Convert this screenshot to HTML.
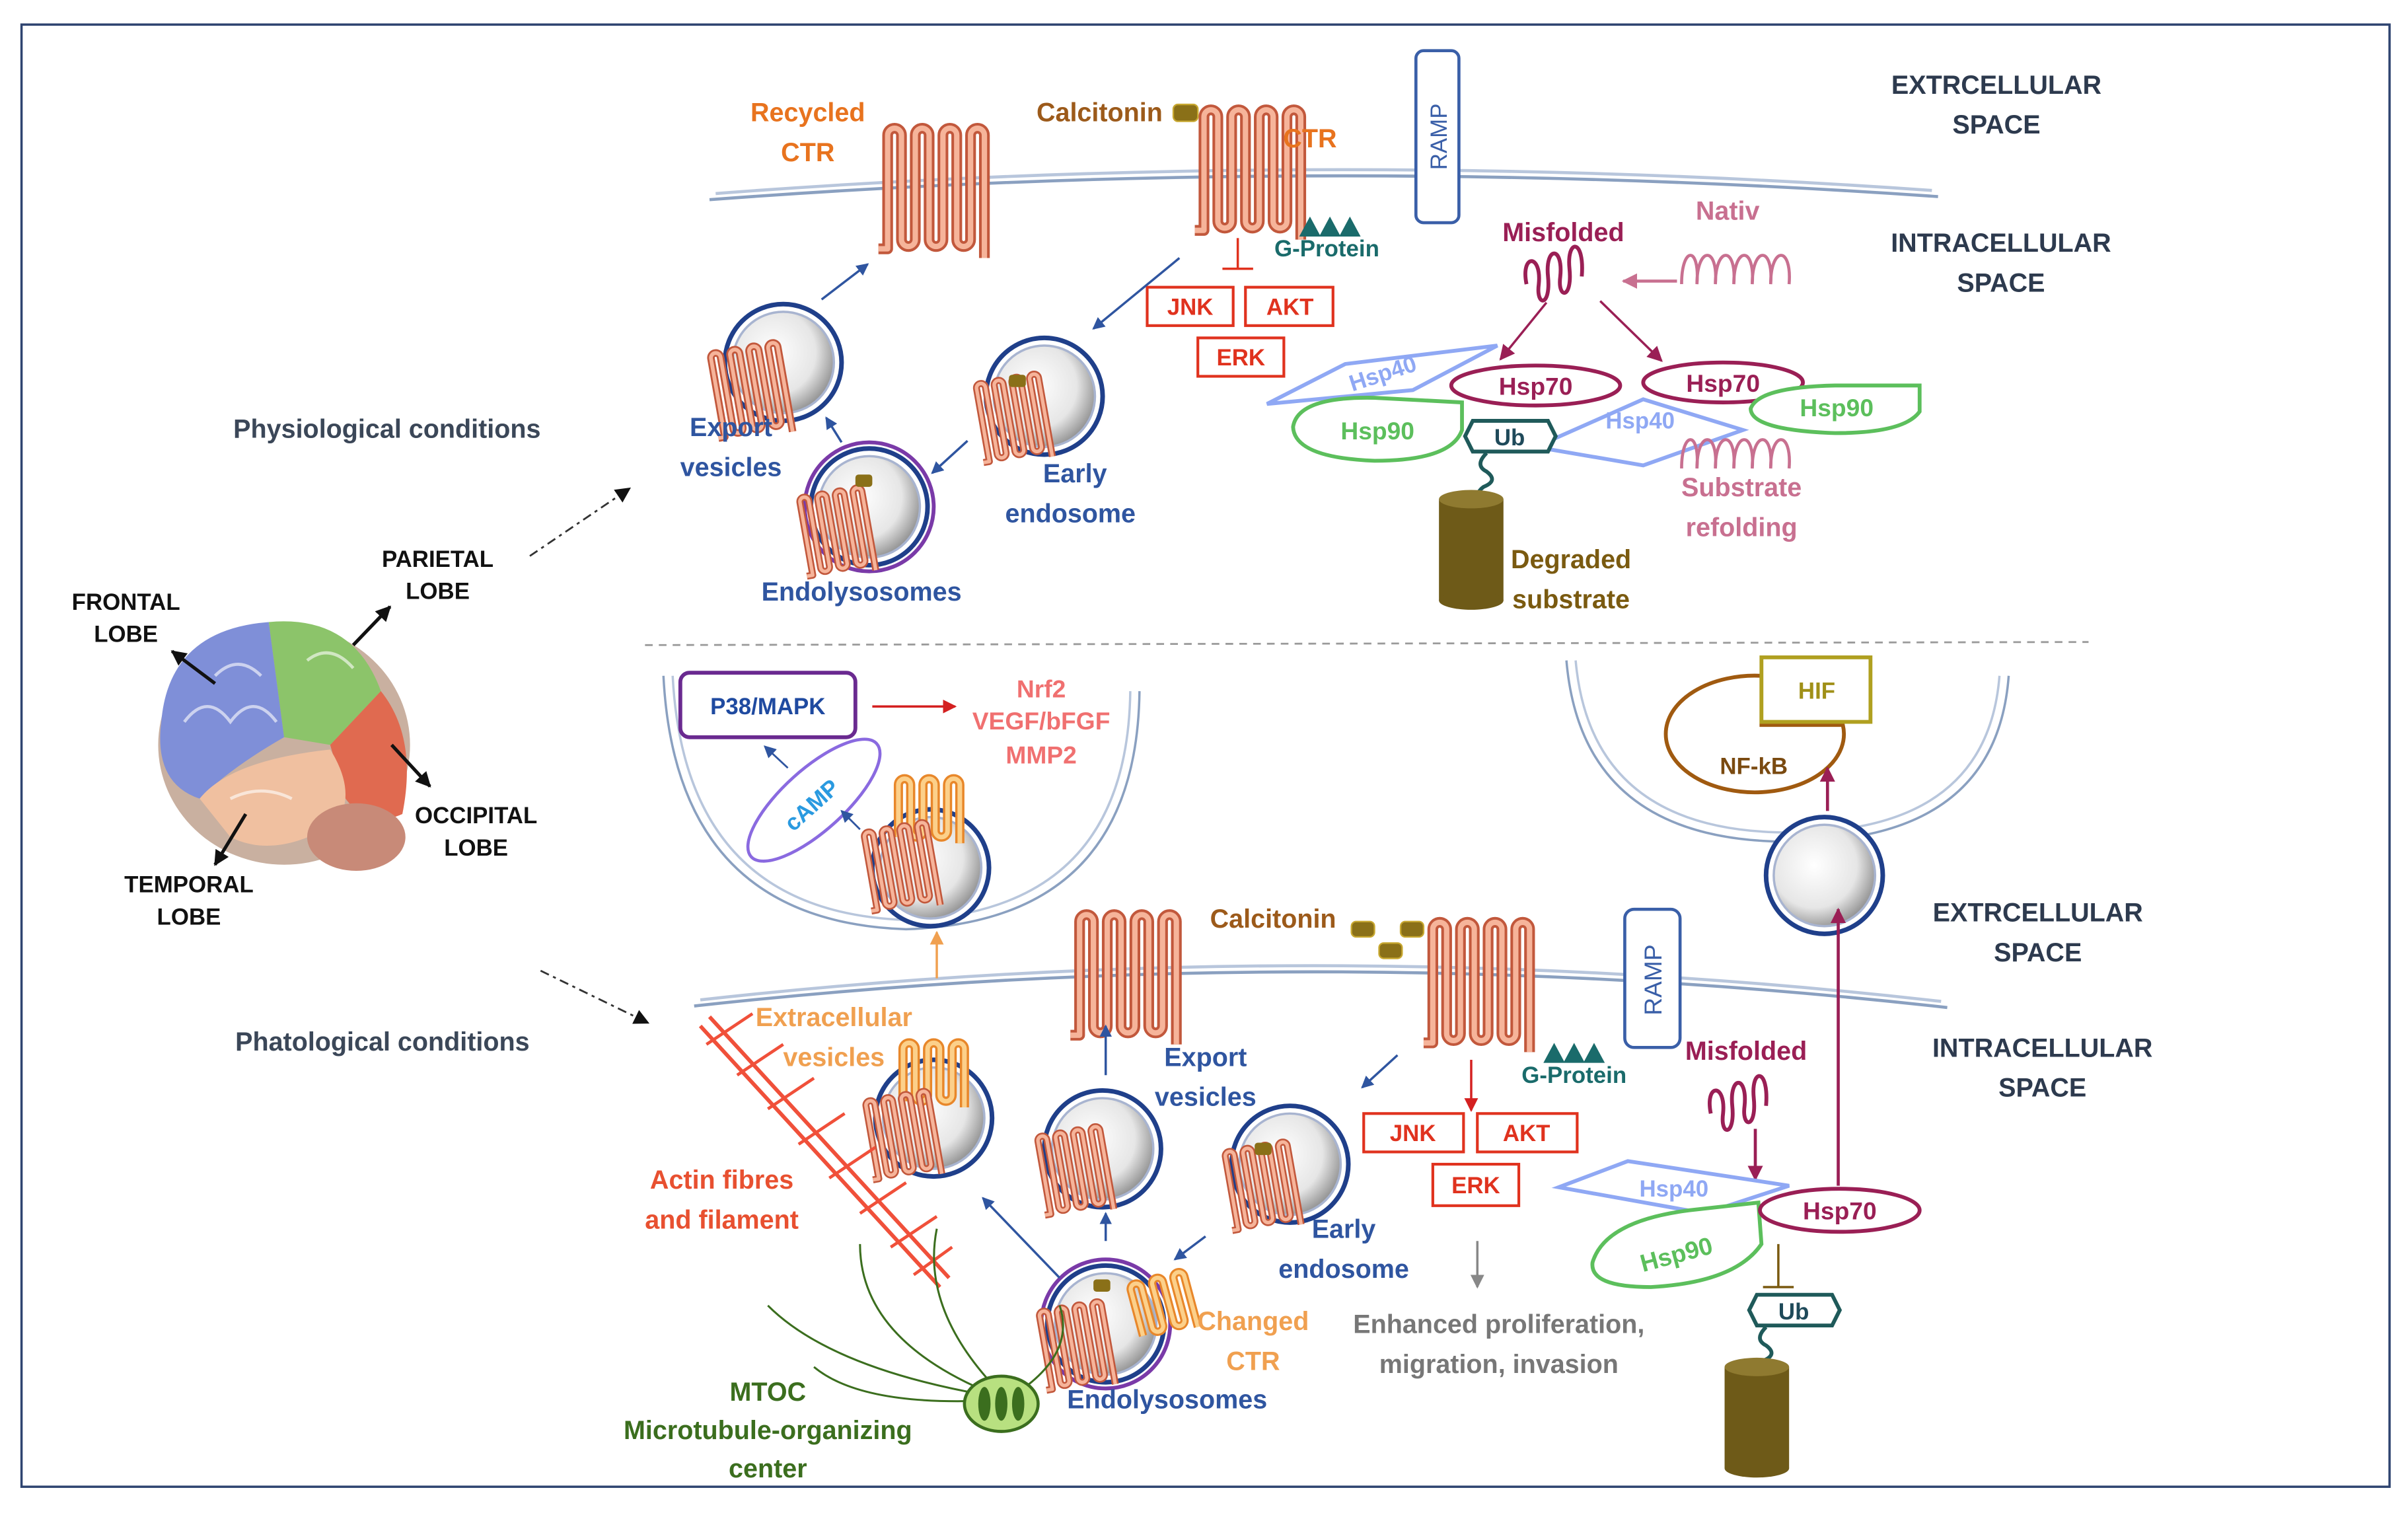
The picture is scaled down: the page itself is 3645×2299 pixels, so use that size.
<!DOCTYPE html>
<html><head><meta charset="utf-8"><style>html,body{margin:0;padding:0;background:#fff}svg{display:block}text{font-family:"Liberation Sans",sans-serif;font-weight:bold}</style></head>
<body>
<svg width="3645" height="2299" viewBox="0 0 1568 989" xmlns="http://www.w3.org/2000/svg">
<defs>
<radialGradient id="vg" cx="0.4" cy="0.4" r="0.7"><stop offset="0" stop-color="#fff"/><stop offset="0.6" stop-color="#e6e6e6"/><stop offset="1" stop-color="#7a7a7a"/></radialGradient>
<marker id="ab" markerWidth="8" markerHeight="8" refX="7" refY="4" orient="auto" markerUnits="userSpaceOnUse"><path d="M0,0 L8,4 L0,8z" fill="#2f55a0"/></marker>
<marker id="ar" markerWidth="9" markerHeight="9" refX="8" refY="4.5" orient="auto" markerUnits="userSpaceOnUse"><path d="M0,0 L9,4.5 L0,9z" fill="#d42020"/></marker>
<marker id="am" markerWidth="10" markerHeight="10" refX="9" refY="5" orient="auto" markerUnits="userSpaceOnUse"><path d="M0,0 L10,5 L0,10z" fill="#9a1f55"/></marker>
<marker id="ap" markerWidth="10" markerHeight="10" refX="9" refY="5" orient="auto" markerUnits="userSpaceOnUse"><path d="M0,0 L10,5 L0,10z" fill="#c87090"/></marker>
<marker id="ao" markerWidth="9" markerHeight="9" refX="8" refY="4.5" orient="auto" markerUnits="userSpaceOnUse"><path d="M0,0 L9,4.5 L0,9z" fill="#f0a050"/></marker>
<marker id="ag" markerWidth="9" markerHeight="9" refX="8" refY="4.5" orient="auto" markerUnits="userSpaceOnUse"><path d="M0,0 L9,4.5 L0,9z" fill="#888"/></marker>
<marker id="ak" markerWidth="10" markerHeight="10" refX="9" refY="5" orient="auto" markerUnits="userSpaceOnUse"><path d="M0,0 L10,5 L0,10z" fill="#111"/></marker>
<g id="rec"><path d="M-6,82 L0,82 L0,8 A4.5,4.5 0 0 1 9,8 L9,76 A4.5,4.5 0 0 0 18,76 L18,8 A4.5,4.5 0 0 1 27,8 L27,76 A4.5,4.5 0 0 0 36,76 L36,8 A4.5,4.5 0 0 1 45,8 L45,76 A4.5,4.5 0 0 0 54,76 L54,8 A4.5,4.5 0 0 1 63,8 L63,88" fill="none" stroke="#c2583c" stroke-width="7" stroke-linejoin="round"/><path d="M-6,82 L0,82 L0,8 A4.5,4.5 0 0 1 9,8 L9,76 A4.5,4.5 0 0 0 18,76 L18,8 A4.5,4.5 0 0 1 27,8 L27,76 A4.5,4.5 0 0 0 36,76 L36,8 A4.5,4.5 0 0 1 45,8 L45,76 A4.5,4.5 0 0 0 54,76 L54,8 A4.5,4.5 0 0 1 63,8 L63,88" fill="none" stroke="#f6b49a" stroke-width="3.5" stroke-linejoin="round"/></g>
<g id="reco"><path d="M0,40 L0,6 A4,4 0 0 1 8,6 L8,36 A4,4 0 0 0 16,36 L16,6 A4,4 0 0 1 24,6 L24,36 A4,4 0 0 0 32,36 L32,6 A4,4 0 0 1 40,6 L40,44" fill="none" stroke="#e8872a" stroke-width="6"/><path d="M0,40 L0,6 A4,4 0 0 1 8,6 L8,36 A4,4 0 0 0 16,36 L16,6 A4,4 0 0 1 24,6 L24,36 A4,4 0 0 0 32,36 L32,6 A4,4 0 0 1 40,6 L40,44" fill="none" stroke="#fcd08a" stroke-width="3"/></g>
<g id="ves"><circle r="38" fill="#fff" stroke="#1f3f8a" stroke-width="3"/><circle r="33" fill="url(#vg)" stroke="#a8b4d0" stroke-width="1.5"/></g>
<g id="cyl"><rect x="-21" y="0" width="42" height="66" fill="#6e5a18"/><ellipse cx="0" cy="0" rx="21" ry="6" fill="#8f7a30"/><ellipse cx="0" cy="66" rx="21" ry="6" fill="#6e5a18"/></g>
</defs>
<rect x="14" y="16" width="1542" height="952" fill="#fff" stroke="#2e4470" stroke-width="1.5"/>

<!-- membranes -->
<path d="M462,130 Q860,100 1262,128" fill="none" stroke="#8aa0c0" stroke-width="2"/>
<path d="M466,126 Q860,96 1258,124" fill="none" stroke="#b8c6dc" stroke-width="2"/>
<path d="M452,655 Q860,610 1268,656" fill="none" stroke="#8aa0c0" stroke-width="2"/>
<path d="M456,651 Q860,606 1264,652" fill="none" stroke="#b8c6dc" stroke-width="2"/>
<line x1="420" y1="420" x2="1360" y2="418" stroke="#9a9a9a" stroke-width="1.2" stroke-dasharray="5,4"/>

<!-- U arcs -->
<path d="M432,440 Q440,600 590,605 Q740,600 742,450" fill="none" stroke="#8aa0c0" stroke-width="1.5"/>
<path d="M438,440 Q446,594 590,599 Q734,594 736,450" fill="none" stroke="#b8c6dc" stroke-width="1.5"/>
<path d="M1020,430 Q1030,548 1165,548 Q1300,548 1308,440" fill="none" stroke="#8aa0c0" stroke-width="1.5"/>
<path d="M1026,430 Q1036,542 1165,542 Q1294,542 1302,440" fill="none" stroke="#b8c6dc" stroke-width="1.5"/>

<!-- texts main -->
<g fill="#2d3a4e" font-size="17" text-anchor="middle">
<text x="1300" y="61">EXTRCELLULAR</text><text x="1300" y="87">SPACE</text>
<text x="1303" y="164">INTRACELLULAR</text><text x="1303" y="190">SPACE</text>
<text x="1327" y="600">EXTRCELLULAR</text><text x="1327" y="626">SPACE</text>
<text x="1330" y="688">INTRACELLULAR</text><text x="1330" y="714">SPACE</text>
<text x="252" y="285" fill="#3b4758">Physiological conditions</text>
<text x="249" y="684" fill="#3b4758">Phatological conditions</text>
</g>

<!-- brain -->
<g>
<ellipse cx="185" cy="485" rx="82" ry="78" fill="#c9b0a0"/>
<path d="M105,470 Q110,410 175,405 L185,480 Q150,500 130,520 Q100,510 105,470z" fill="#7f8fd8"/>
<path d="M175,405 Q230,400 248,450 L215,485 L185,480z" fill="#8cc46a"/>
<path d="M248,450 Q272,480 262,530 Q240,540 225,520 L215,485z" fill="#e06a50"/>
<path d="M130,520 Q150,495 215,488 Q232,515 220,535 Q180,560 150,545z" fill="#f0c0a0"/>
<ellipse cx="232" cy="545" rx="32" ry="22" fill="#c88a78"/>
<path d="M120,470 q15,-20 30,0 q15,-20 30,0 M140,440 q15,-15 30,0 M200,430 q15,-12 30,5 M150,520 q20,-10 40,0" fill="none" stroke="#fff" stroke-opacity="0.6" stroke-width="2"/>
</g>
<g stroke="#111" stroke-width="2.2"><line x1="140" y1="445" x2="112" y2="424" marker-end="url(#ak)"/><line x1="230" y1="420" x2="254" y2="395" marker-end="url(#ak)"/><line x1="255" y1="485" x2="280" y2="512" marker-end="url(#ak)"/><line x1="160" y1="530" x2="140" y2="563" marker-end="url(#ak)"/></g>
<g fill="#111" font-size="15" text-anchor="middle">
<text x="82" y="397">FRONTAL</text><text x="82" y="418">LOBE</text>
<text x="285" y="369">PARIETAL</text><text x="285" y="390">LOBE</text>
<text x="310" y="536">OCCIPITAL</text><text x="310" y="557">LOBE</text>
<text x="123" y="581">TEMPORAL</text><text x="123" y="602">LOBE</text>
</g>
<g stroke="#333" stroke-width="1.2" stroke-dasharray="6,3,2,3" fill="none"><line x1="345" y1="362" x2="410" y2="318" marker-end="url(#ak)"/><line x1="352" y1="632" x2="422" y2="666" marker-end="url(#ak)"/></g>

<!-- TOP -->
<use href="#rec" x="578" y="80"/>
<use href="#rec" x="784" y="68"/>
<text x="526" y="79" fill="#e8731e" font-size="17" text-anchor="middle">Recycled</text>
<text x="526" y="105" fill="#e8731e" font-size="17" text-anchor="middle">CTR</text>
<text x="716" y="79" fill="#9c5a1a" font-size="17" text-anchor="middle">Calcitonin</text>
<rect x="764" y="68" width="16" height="11" rx="3" fill="#8a7018" stroke="#c8a830"/>
<text x="853" y="96" fill="#e8731e" font-size="17" text-anchor="middle">CTR</text>
<rect x="922" y="33" width="28" height="112" rx="5" fill="#fff" stroke="#3a5fa8" stroke-width="2"/>
<text transform="translate(942,89) rotate(-90)" fill="#3a5fa8" font-size="15" font-weight="normal" text-anchor="middle" style="font-weight:normal">RAMP</text>
<path d="M846,154 l7,-13 l7,13z M859,154 l7,-13 l7,13z M872,154 l7,-13 l7,13z" fill="#1a6b6b"/>
<text x="864" y="167" fill="#1a6b6b" font-size="15" text-anchor="middle">G-Protein</text>
<g stroke="#e0321e" stroke-width="1.5"><line x1="806" y1="155" x2="806" y2="175"/><line x1="796" y1="175" x2="816" y2="175"/></g>
<g fill="#fff" stroke="#e0321e" stroke-width="1.8"><rect x="747" y="187" width="56" height="25"/><rect x="811" y="187" width="57" height="25"/><rect x="780" y="220" width="56" height="25"/></g>
<g fill="#e0321e" font-size="15" text-anchor="middle"><text x="775" y="205">JNK</text><text x="840" y="205">AKT</text><text x="808" y="238">ERK</text></g>
<g stroke="#2f55a0" stroke-width="1.5" marker-end="url(#ab)"><line x1="768" y1="168" x2="712" y2="214"/><line x1="535" y1="195" x2="565" y2="172"/><line x1="548" y1="288" x2="538" y2="272"/><line x1="630" y1="287" x2="607" y2="308"/></g>
<use href="#ves" x="510" y="236"/>
<use href="#rec" x="0" y="0" transform="translate(462,228) scale(0.7) rotate(-10)"/>
<use href="#ves" x="680" y="258"/>
<use href="#rec" transform="translate(635,248) scale(0.65) rotate(-10)"/>
<rect x="657" y="244" width="11" height="8" rx="2" fill="#8a7018"/>
<circle cx="566" cy="330" r="42" fill="none" stroke="#7a3aa8" stroke-width="2.5"/>
<use href="#ves" x="566" y="330"/>
<use href="#rec" transform="translate(520,322) scale(0.65) rotate(-10)"/>
<rect x="557" y="309" width="11" height="8" rx="2" fill="#8a7018"/>
<g fill="#2f55a0" font-size="17" text-anchor="middle">
<text x="476" y="284">Export</text><text x="476" y="310">vesicles</text>
<text x="700" y="314">Early</text><text x="697" y="340">endosome</text>
<text x="561" y="391">Endolysosomes</text>
</g>
<!-- chaperone top -->
<text x="1018" y="157" fill="#9a1f55" font-size="17" text-anchor="middle">Misfolded</text>
<path d="M994,185 c-4,-20 10,-20 8,0 c-2,15 8,15 6,-5 c-2,-20 10,-20 8,0 c-2,15 8,15 6,-5 c-2,-20 10,-20 8,5" fill="none" stroke="#9a1f55" stroke-width="2.5"/>
<text x="1125" y="143" fill="#c87090" font-size="17" text-anchor="middle">Nativ</text>
<path d="M1095,185 c0,-25 12,-25 10,0 c0,-25 14,-25 12,0 c0,-25 14,-25 12,0 c0,-25 14,-25 12,0 c0,-25 14,-25 12,0 c0,-25 14,-25 12,0" fill="none" stroke="#c87090" stroke-width="2"/>
<line x1="1092" y1="183" x2="1057" y2="183" stroke="#c87090" stroke-width="2" marker-end="url(#ap)"/>
<g stroke="#9a1f55" stroke-width="1.5" marker-end="url(#am)"><line x1="1007" y1="197" x2="977" y2="234"/><line x1="1042" y1="196" x2="1082" y2="235"/></g>
<path d="M825,263 L876,237 L975,225 L920,254z" fill="none" stroke="#8fa8f4" stroke-width="2.5"/>
<text transform="translate(902,248) rotate(-18)" fill="#8fa8f4" font-size="15" text-anchor="middle">Hsp40</text>
<path d="M955,260 L955,267 L845,267 Q838,300 900,302 Q950,300 955,267" fill="none" stroke="none"/>
<path d="M952,262 L952,280 Q945,300 895,300 Q843,298 842,278 Q845,258 895,259z" fill="#fff" stroke="#5cbf5c" stroke-width="2.5"/>
<text x="897" y="286" fill="#5cbf5c" font-size="16" text-anchor="middle">Hsp90</text>
<path d="M1000,291 L1070,260 L1135,280 L1070,303z" fill="none" stroke="#8fa8f4" stroke-width="2.5"/>
<text x="1068" y="279" fill="#8fa8f4" font-size="15" text-anchor="middle">Hsp40</text>
<ellipse cx="1000" cy="251" rx="55" ry="13" fill="#fff" stroke="#9a1f55" stroke-width="2.5"/>
<text x="1000" y="257" fill="#9a1f55" font-size="16" text-anchor="middle">Hsp70</text>
<ellipse cx="1122" cy="249" rx="52" ry="13" fill="#fff" stroke="#9a1f55" stroke-width="2.5"/>
<text x="1122" y="255" fill="#9a1f55" font-size="16" text-anchor="middle">Hsp70</text>
<path d="M1250,251 L1250,268 Q1240,282 1195,282 Q1140,280 1140,266 Q1145,252 1195,251z" fill="#fff" stroke="#5cbf5c" stroke-width="2.5"/>
<text x="1196" y="271" fill="#5cbf5c" font-size="16" text-anchor="middle">Hsp90</text>
<path d="M959,274 L1008,274 L1013,284 L1008,294 L959,294 L954,284z" fill="#fff" stroke="#1f5a5a" stroke-width="2.5"/>
<text x="983" y="290" fill="#1f4a5a" font-size="15" text-anchor="middle">Ub</text>
<path d="M1095,305 c0,-25 12,-25 10,0 c0,-25 14,-25 12,0 c0,-25 14,-25 12,0 c0,-25 14,-25 12,0 c0,-25 14,-25 12,0 c0,-25 14,-25 12,0" fill="none" stroke="#c87090" stroke-width="2"/>
<text x="1134" y="323" fill="#c87090" font-size="17" text-anchor="middle">Substrate</text>
<text x="1134" y="349" fill="#c87090" font-size="17" text-anchor="middle">refolding</text>
<path d="M968,295 q-8,8 0,12 q8,6 -2,10 q-8,6 2,12" fill="none" stroke="#1f5a5a" stroke-width="2.5"/>
<use href="#cyl" x="958" y="325"/>
<text x="1023" y="370" fill="#7a5a10" font-size="17" text-anchor="middle">Degraded</text>
<text x="1023" y="396" fill="#7a5a10" font-size="17" text-anchor="middle">substrate</text>

<!-- BOTTOM -->
<rect x="443" y="438" width="114" height="42" rx="6" fill="#fff" stroke="#6a2a90" stroke-width="2.5"/>
<text x="500" y="465" fill="#1f4aa0" font-size="15" text-anchor="middle">P38/MAPK</text>
<line x1="568" y1="460" x2="622" y2="460" stroke="#d42020" stroke-width="1.5" marker-end="url(#ar)"/>
<g fill="#f07070" font-size="16" text-anchor="middle"><text x="678" y="454">Nrf2</text><text x="678" y="475">VEGF/bFGF</text><text x="678" y="497">MMP2</text></g>
<ellipse cx="530" cy="521" rx="55" ry="20" transform="rotate(-42 530 521)" fill="#fff" stroke="#8a6ae0" stroke-width="2"/>
<text transform="translate(532,528) rotate(-42)" fill="#2a9ae0" font-size="15" text-anchor="middle">cAMP</text>
<g stroke="#2f55a0" stroke-width="1.2" marker-end="url(#ab)"><line x1="513" y1="500" x2="498" y2="486"/><line x1="560" y1="540" x2="548" y2="528"/></g>
<use href="#ves" x="606" y="565"/>
<use href="#reco" x="585" y="505"/>
<use href="#rec" transform="translate(562,540) scale(0.65) rotate(-10)"/>
<line x1="610" y1="637" x2="610" y2="607" stroke="#f0a050" stroke-width="1.5" marker-end="url(#ao)"/>
<use href="#rec" x="703" y="592"/>
<use href="#rec" x="933" y="597"/>
<text x="829" y="604" fill="#9c5a1a" font-size="17" text-anchor="middle">Calcitonin</text>
<g fill="#8a7018" stroke="#c8a830"><rect x="880" y="600" width="15" height="10" rx="3"/><rect x="898" y="614" width="15" height="10" rx="3"/><rect x="912" y="600" width="15" height="10" rx="3"/></g>
<rect x="1058" y="592" width="36" height="90" rx="6" fill="#fff" stroke="#3a5fa8" stroke-width="2"/>
<text transform="translate(1082,638) rotate(-90)" fill="#3a5fa8" font-size="16" text-anchor="middle" style="font-weight:normal">RAMP</text>
<path d="M1005,692 l7,-13 l7,13z M1018,692 l7,-13 l7,13z M1031,692 l7,-13 l7,13z" fill="#1a6b6b"/>
<text x="1025" y="705" fill="#1a6b6b" font-size="15" text-anchor="middle">G-Protein</text>
<line x1="958" y1="690" x2="958" y2="723" stroke="#d42020" stroke-width="1.5" marker-end="url(#ar)"/>
<g fill="#fff" stroke="#e0321e" stroke-width="1.8"><rect x="888" y="725" width="65" height="25"/><rect x="962" y="725" width="65" height="25"/><rect x="933" y="758" width="56" height="27"/></g>
<g fill="#e0321e" font-size="15" text-anchor="middle"><text x="920" y="743">JNK</text><text x="994" y="743">AKT</text><text x="961" y="777">ERK</text></g>
<line x1="962" y1="808" x2="962" y2="838" stroke="#888" stroke-width="1.5" marker-end="url(#ag)"/>
<text x="976" y="868" fill="#777" font-size="17" text-anchor="middle">Enhanced proliferation,</text>
<text x="976" y="894" fill="#777" font-size="17" text-anchor="middle">migration, invasion</text>
<use href="#ves" x="608" y="728"/>
<use href="#reco" x="588" y="677"/>
<use href="#rec" transform="translate(563,715) scale(0.65) rotate(-10)"/>
<use href="#ves" x="718" y="748"/>
<use href="#rec" transform="translate(675,738) scale(0.65) rotate(-10)"/>
<use href="#ves" x="840" y="758"/>
<use href="#rec" transform="translate(797,748) scale(0.65) rotate(-10)"/>
<rect x="817" y="744" width="11" height="8" rx="2" fill="#8a7018"/>
<circle cx="720" cy="862" r="42" fill="none" stroke="#7a3aa8" stroke-width="2.5"/>
<use href="#ves" x="720" y="862"/>
<use href="#rec" transform="translate(676,852) scale(0.65) rotate(-10)"/>
<use href="#reco" transform="translate(735,835) scale(0.9) rotate(-15)"/>
<rect x="712" y="833" width="11" height="8" rx="2" fill="#8a7018"/>
<g stroke="#2f55a0" stroke-width="1.5" marker-end="url(#ab)"><line x1="720" y1="700" x2="720" y2="668"/><line x1="720" y1="808" x2="720" y2="790"/><line x1="690" y1="832" x2="640" y2="780"/><line x1="785" y1="805" x2="765" y2="820"/><line x1="910" y1="687" x2="887" y2="708"/></g>
<g fill="#2f55a0" font-size="17" text-anchor="middle"><text x="785" y="694">Export</text><text x="785" y="720">vesicles</text><text x="875" y="806">Early</text><text x="875" y="832">endosome</text><text x="760" y="917">Endolysosomes</text></g>
<text x="816" y="866" fill="#f0a050" font-size="17" text-anchor="middle">Changed</text>
<text x="816" y="892" fill="#f0a050" font-size="17" text-anchor="middle">CTR</text>
<text x="543" y="668" fill="#f0a050" font-size="17" text-anchor="middle">Extracellular</text>
<text x="543" y="694" fill="#f0a050" font-size="17" text-anchor="middle">vesicles</text>
<!-- actin -->
<g stroke="#f0503a" stroke-width="2.5"><line x1="456" y1="668" x2="612" y2="838"/><line x1="462" y1="662" x2="618" y2="832"/></g>
<g stroke="#f0503a" stroke-width="2"><path d="M460,680 l30,-20 M480,700 l30,-20 M500,722 l30,-20 M520,745 l30,-20 M540,767 l30,-20 M560,790 l30,-20 M580,812 l30,-20 M595,830 l25,-18"/></g>
<text x="470" y="774" fill="#e85030" font-size="17" text-anchor="middle">Actin fibres</text>
<text x="470" y="800" fill="#e85030" font-size="17" text-anchor="middle">and filament</text>
<g fill="none" stroke="#3b6e1e" stroke-width="1.3"><path d="M640,905 Q560,870 560,810"/><path d="M640,908 Q540,890 500,850"/><path d="M645,900 Q600,850 610,800"/><path d="M640,912 Q560,915 530,890"/><path d="M665,905 Q700,880 690,850"/></g>
<ellipse cx="652" cy="914" rx="24" ry="18" fill="#b8e080" stroke="#3b6e1e" stroke-width="2"/>
<g fill="#3b6e1e"><ellipse cx="641" cy="914" rx="4" ry="11"/><ellipse cx="652" cy="914" rx="4" ry="11"/><ellipse cx="663" cy="914" rx="4" ry="11"/></g>
<g fill="#3b6e1e" font-size="17" text-anchor="middle"><text x="500" y="912">MTOC</text><text x="500" y="937">Microtubule-organizing</text><text x="500" y="962">center</text></g>
<!-- right bottom -->
<path d="M1200,472 A58,38 0 1 1 1147,440 L1147,472z" fill="#fff" stroke="#a05a10" stroke-width="2.5"/>
<rect x="1147" y="428" width="71" height="42" fill="#fff" stroke="#b0a020" stroke-width="2.5"/>
<text x="1183" y="455" fill="#a09018" font-size="15" text-anchor="middle">HIF</text>
<text x="1142" y="504" fill="#7a4a10" font-size="15" text-anchor="middle">NF-kB</text>
<line x1="1190" y1="528" x2="1190" y2="500" stroke="#9a1f55" stroke-width="2" marker-end="url(#am)"/>
<use href="#ves" x="1188" y="570"/>
<text x="1137" y="690" fill="#9a1f55" font-size="17" text-anchor="middle">Misfolded</text>
<path d="M1114,725 c-4,-20 10,-20 8,0 c-2,15 8,15 6,-5 c-2,-20 10,-20 8,0 c-2,15 8,15 6,-5 c-2,-20 10,-20 8,5" fill="none" stroke="#9a1f55" stroke-width="2.5"/>
<line x1="1143" y1="735" x2="1143" y2="768" stroke="#9a1f55" stroke-width="2" marker-end="url(#am)"/>
<line x1="1197" y1="772" x2="1197" y2="592" stroke="#9a1f55" stroke-width="2" marker-end="url(#am)"/>
<path d="M1015,773 L1060,756 L1165,772 L1110,790z" fill="#fff" stroke="#8fa8f4" stroke-width="2.5"/>
<text x="1090" y="779" fill="#8fa8f4" font-size="15" text-anchor="middle">Hsp40</text>
<path d="M1145,783 L1147,810 Q1130,835 1075,838 Q1035,838 1037,822 Q1045,795 1100,788z" fill="#fff" stroke="#5cbf5c" stroke-width="2.5"/>
<text transform="translate(1093,822) rotate(-15)" fill="#5cbf5c" font-size="16" text-anchor="middle">Hsp90</text>
<ellipse cx="1198" cy="788" rx="52" ry="14" fill="#fff" stroke="#9a1f55" stroke-width="2.5"/>
<text x="1198" y="794" fill="#9a1f55" font-size="16" text-anchor="middle">Hsp70</text>
<g stroke="#7a5a10" stroke-width="1.5"><line x1="1158" y1="810" x2="1158" y2="838"/><line x1="1148" y1="838" x2="1168" y2="838"/></g>
<path d="M1144,843 L1193,843 L1198,853 L1193,863 L1144,863 L1139,853z" fill="#fff" stroke="#1f5a5a" stroke-width="2.5"/>
<text x="1168" y="859" fill="#1f4a5a" font-size="15" text-anchor="middle">Ub</text>
<path d="M1150,864 q-8,8 0,12 q8,6 -2,10 q-8,6 2,10" fill="none" stroke="#1f5a5a" stroke-width="2.5"/>
<use href="#cyl" x="1144" y="890"/>
</svg>
</body></html>
